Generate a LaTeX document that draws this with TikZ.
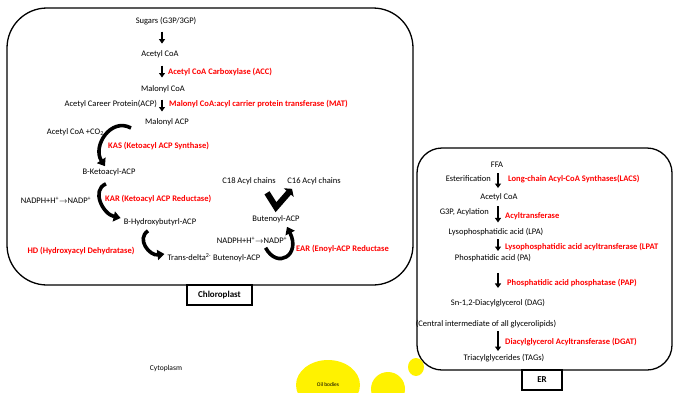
\documentclass[tikz,border=0pt]{standalone}
\usepackage{fontspec}
\setmainfont{Carlito}
\usetikzlibrary{arrows.meta,calc}

\newcommand{\dnarrow}[4]{\draw[dn] ($(#1.south -| #3)!.5!(#2.north -| #3)$) ++(0,-#4) -- ++(0,2*#4);}

\begin{document}
\begin{tikzpicture}[x=1pt,y=-1pt,
        lbl/.style={inner sep=1pt, font=\fontsize{8.5}{10}\selectfont},
        enz/.style={inner sep=1pt, text=red, font=\fontsize{8.5}{10}\selectfont\bfseries},
        dn/.style={line width=1.7pt, -{Triangle[length=4.5pt,width=6pt]}},
        curv/.style={line width=3.6pt, -{Triangle[length=7pt,width=10pt]}},
        organelle/.style={draw, line width=1.3pt},
        tag/.style={draw, line width=1.2pt, fill=white, minimum height=20pt, font=\fontsize{9}{10}\selectfont\bfseries}]
        \useasboundingbox (0,0) rectangle (675,392);

        \draw[organelle, rounded corners=40pt] (7,8) rectangle (413,285);
        \draw[organelle, rounded corners=25pt] (417,148) rectangle (672,370);
        \node[tag, minimum width=65pt] (chl) at (219.5,295) {Chloroplast};
        \node[tag, minimum width=40pt] (er) at (542,380) {ER};

        \fill[yellow] (328,385) ellipse [x radius=32pt, y radius=25pt];
        \fill[yellow] (388,389) circle (17pt);
        \fill[yellow] (416,367) ellipse [x radius=8pt, y radius=9pt];
        \node[inner sep=0pt, font=\fontsize{5.5}{6}\selectfont] (oil) at (328,385) {Oil bodies};
        \node[lbl, font=\fontsize{7.5}{9}\selectfont] (cyto) at (166,368) {Cytoplasm};

        \coordinate (cx) at (162,0);
        \node[lbl] (sugars) at (166,21) {Sugars (G3P/3GP)};
        \node[lbl] (acoa) at (160,54) {Acetyl CoA};
        \node[enz, anchor=west] (acc) at (167,72) {Acetyl CoA Carboxylase (ACC)};
        \node[lbl] (mcoa) at (163,89) {Malonyl CoA};
        \node[lbl, anchor=east] (acp) at (158,104) {Acetyl Career Protein(ACP)};
        \node[enz, anchor=west] (mat) at (168,104) {Malonyl CoA:acyl carrier protein transferase (MAT)};
        \node[lbl] (macp) at (167,122) {Malonyl ACP};
        \node[lbl, anchor=east] (aco2) at (105,132) {Acetyl CoA +CO\textsubscript{2}};
        \node[enz, anchor=west] (kas) at (107,146) {KAS (Ketoacyl ACP Synthase)};
        \node[lbl] (bketo) at (109,172) {B-Ketoacyl-ACP};
        \node[lbl] (nadph1) at (56,200) {NADPH+H\textsuperscript{+}$\rightarrow$NADP\textsuperscript{+}};
        \node[enz, anchor=west] (kar) at (104,199) {KAR (Ketoacyl ACP Reductase)};
        \node[lbl] (bhyd) at (160,222) {B-Hydroxybutyrl-ACP};
        \node[enz] (hd) at (81,251) {HD (Hydroxyacyl Dehydratase)};
        \node[lbl] (trans) at (214,258) {Trans-delta\textsuperscript{2-} Butenoyl-ACP};
        \node[lbl] (nadph2) at (252,240) {NADPH+H\textsuperscript{+}$\rightarrow$NADP\textsuperscript{+}};
        \node[enz, anchor=west] (ear) at (295,249) {EAR (Enoyl-ACP Reductase};
        \node[lbl] (buten) at (276,219) {Butenoyl-ACP};
        \node[lbl] (c18) at (249,181) {C18 Acyl chains};
        \node[lbl] (c16) at (314,181) {C16 Acyl chains};

        \dnarrow{sugars}{acoa}{cx}{6}
        \dnarrow{acoa}{mcoa}{cx}{6}
        \dnarrow{mcoa}{macp}{cx}{6}

        \draw[curv] ([shift={(-13,6)}]macp.west) .. controls +(-20,-11) and +(-13,-20) .. ([shift={(-4,-1)}]bketo.north);
        \draw[curv] ([shift={(-3,7)}]bketo.south) .. controls +(-15,6) and +(-18,-4) .. ([shift={(-2,-4)}]bhyd.west);
        \draw[curv] ([shift={(-12,4)}]bhyd.south) .. controls +(-12,8) and +(-15,2) .. ([shift={(-2,-4)}]trans.west);
        \draw[curv] ([shift={(4,-5)}]trans.north east) .. controls +(12,22) and +(14,28) .. ([shift={(11,3)}]buten.south);
        \draw[line width=6pt, -{Triangle[length=5pt,width=13pt]}] ([shift={(18,7)}]c18.south) -- ([shift={(0,-7)}]buten.north) -- ([shift={(-22,3)}]c16.south);

        \coordinate (ex) at (498,0);
        \node[lbl] (ffa) at (497,165) {FFA};
        \node[lbl, anchor=east] (ester) at (492,179) {Esterification};
        \node[enz, anchor=west] (lacs) at (507,179) {Long-chain Acyl-CoA Synthases(LACS)};
        \node[lbl] (eacoa) at (499,197) {Acetyl CoA};
        \node[lbl, anchor=east] (g3p) at (490,212) {G3P, Acylation};
        \node[enz, anchor=west] (acyl) at (504,216) {Acyltransferase};
        \node[lbl] (lpa) at (496,232) {Lysophosphatidic acid (LPA)};
        \node[enz, anchor=west] (lpat) at (504,247) {Lysophosphatidic acid acyltransferase (LPAT};
        \node[lbl] (pa) at (493,258) {Phosphatidic acid (PA)};
        \node[enz, anchor=west] (pap) at (506,283) {Phosphatidic acid phosphatase (PAP)};
        \node[lbl] (dag) at (498,303) {Sn-1,2-Diacylglycerol (DAG)};
        \node[lbl] (central) at (486,324) {(Central intermediate of all glycerolipids)};
        \node[enz, anchor=west] (dgat) at (504,342) {Diacylglycerol Acyltransferase (DGAT)};
        \node[lbl] (tags) at (504,358) {Triacylglycerides (TAGs)};

        \dnarrow{ffa}{eacoa}{ex}{7.5}
        \dnarrow{eacoa}{lpa}{ex}{8}
        \dnarrow{lpa}{pa}{ex}{6}
        \dnarrow{pa}{dag}{ex}{7.5}
        \dnarrow{central}{tags}{ex}{10}
\end{tikzpicture}
\end{document}
